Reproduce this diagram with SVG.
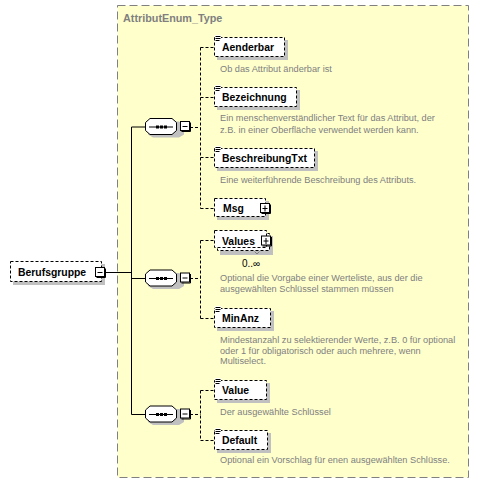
<svg xmlns="http://www.w3.org/2000/svg" width="479" height="484" viewBox="0 0 479 484">
<style>
.bg{fill:#FFFFFF}
.frame{fill:#FFFFCC;stroke:#808080;stroke-width:1;stroke-dasharray:8,4}
.title{font-family:"Liberation Sans",Arial,sans-serif;font-weight:bold;font-size:10.8px;fill:#808080}
.box{fill:#FFFFFF;stroke:#000000;stroke-width:1;stroke-dasharray:3,2}
.shadow{fill:#C0C0C0}
.name{font-family:"Liberation Sans",Arial,sans-serif;font-weight:bold;font-size:10.4px;fill:#000000}
.doc{font-family:"Liberation Sans",Arial,sans-serif;font-size:9.2px;fill:#808080}
.occ{font-family:"Liberation Sans",Arial,sans-serif;font-size:10px;fill:#000000}
.btn{fill:#FFFFFF;stroke:#000000;stroke-width:1}
.solid{fill:none;stroke:#000000;stroke-width:1}
.dash{fill:none;stroke:#000000;stroke-width:1;stroke-dasharray:3,2}
.oct{fill:#FFFFFF;stroke:#000000;stroke-width:1}
</style>
<defs>
<g id="icon"><rect x="0" y="-1" width="6" height="6" fill="#FFFFFF"/><path d="M0.5 0.5H5.5M0.5 2.5H5.5M0.5 4.5H4.5" stroke="#000000" stroke-width="1"/></g>
<g id="minus"><rect x="0.5" y="0.5" width="9" height="9" class="btn"/><path d="M10.5 1.5V10.5H1.5" fill="none" stroke="#000000"/><path d="M2.5 5.5H7.5" stroke="#000000"/></g>
<g id="plus"><rect x="0.5" y="0.5" width="9" height="9" class="btn"/><path d="M10.5 1.5V10.5H1.5" fill="none" stroke="#000000"/><path d="M2.5 5.5H7.5M5 2.5V8.5" stroke="#000000"/></g>
<g id="seq">
<polygon points="3,-5 8,-8 34,-8 39,-5 39,5 34,8 8,8 3,5" class="shadow" transform="translate(0,3)"/>
<polygon points="0.5,-4 5,-8 27,-8 31.5,-4 31.5,4 27,8 5,8 0.5,4" class="oct"/>
<path d="M4 0.5H28" stroke="#000000"/>
<rect x="11" y="-1" width="3" height="3" fill="#000000"/>
<rect x="15" y="-1" width="3" height="3" fill="#000000"/>
<rect x="19" y="-1" width="3" height="3" fill="#000000"/>
</g>
</defs>
<rect x="0" y="0" width="479" height="484" class="bg"/>
<rect x="117.5" y="5.5" width="351" height="472" class="frame"/>
<text x="123" y="22" class="title">AttributEnum_Type</text>

<g id="connectors">
<path d="M105 272.5H131.5V127H145M131.5 278.5H145M131.5 272V414.5H145" class="solid"/>
<path d="M190 127.5H200.5M200.5 47.5V208.5M200.5 47.5H214M200.5 97.5H214M200.5 157.5H214M200.5 208.5H214" class="dash"/>
<path d="M190 278.5H200.5M200.5 240.5V318.5M200.5 240.5H214M200.5 318.5H214" class="dash"/>
<path d="M190 414.5H200.5M200.5 390.5V440.5M200.5 390.5H214M200.5 440.5H214" class="dash"/>
</g>

<g id="Berufsgruppe">
<rect x="13" y="264" width="92" height="21" class="shadow"/>
<rect x="10.5" y="261.5" width="91" height="20" class="box"/>
<text x="18" y="276" class="name">Berufsgruppe</text>
<use href="#minus" x="95" y="267"/>
</g>

<g id="seq1"><use href="#seq" x="145" y="126.5"/><use href="#minus" x="180" y="121"/></g>
<g id="seq2"><use href="#seq" x="145" y="278"/><use href="#minus" x="180" y="272.5"/></g>
<g id="seq3"><use href="#seq" x="145" y="414"/><use href="#minus" x="180" y="408.5"/></g>

<g id="Aenderbar">
<rect x="217" y="40" width="71" height="20" class="shadow"/>
<rect x="214.5" y="37.5" width="70" height="19" class="box"/>
<use href="#icon" x="215" y="36"/>
<text x="222" y="51" class="name">Aenderbar</text>
<text x="220" y="72" class="doc">Ob das Attribut änderbar ist</text>
</g>

<g id="Bezeichnung">
<rect x="217" y="90" width="83" height="20" class="shadow"/>
<rect x="214.5" y="87.5" width="82" height="19" class="box"/>
<use href="#icon" x="215" y="86"/>
<text x="222" y="101" class="name">Bezeichnung</text>
<text x="220" y="121" class="doc">Ein menschenverständlicher Text für das Attribut, der</text>
<text x="220" y="132.5" class="doc">z.B. in einer Oberfläche verwendet werden kann.</text>
</g>

<g id="BeschreibungTxt">
<rect x="217" y="151" width="101" height="20" class="shadow"/>
<rect x="214.5" y="148.5" width="100" height="19" class="box"/>
<use href="#icon" x="215" y="147"/>
<text x="222" y="162" class="name">BeschreibungTxt</text>
<text x="220" y="183" class="doc">Eine weiterführende Beschreibung des Attributs.</text>
</g>

<g id="Msg">
<rect x="217" y="201" width="52" height="19" class="shadow"/>
<rect x="214.5" y="198.5" width="51" height="18" class="box"/>
<text x="223" y="212" class="name">Msg</text>
<use href="#plus" x="260" y="203"/>
</g>

<g id="Values">
<rect x="220" y="236" width="53" height="19" class="shadow"/>
<rect x="217.5" y="233.5" width="52" height="17" class="box"/>
<rect x="214.5" y="230.5" width="52" height="17" class="box"/>
<text x="222" y="244.5" class="name">Values</text>
<use href="#plus" x="261" y="235.5"/>
<path d="M254.5 251.5L257 254L259.5 251.5" fill="none" stroke="#808080"/>
<text x="242" y="267" class="occ">0..∞</text>
<text x="220" y="281" class="doc">Optional die Vorgabe einer Werteliste, aus der die</text>
<text x="220" y="292" class="doc">ausgewählten Schlüssel stammen müssen</text>
</g>

<g id="MinAnz">
<rect x="217" y="311" width="57" height="20" class="shadow"/>
<rect x="214.5" y="308.5" width="56" height="19" class="box"/>
<use href="#icon" x="215" y="307"/>
<text x="222" y="322" class="name">MinAnz</text>
<text x="220" y="343" class="doc">Mindestanzahl zu selektierender Werte, z.B. 0 für optional</text>
<text x="220" y="353.5" class="doc">oder 1 für obligatorisch oder auch mehrere, wenn</text>
<text x="220" y="364" class="doc">Multiselect.</text>
</g>

<g id="Value">
<rect x="217" y="383" width="53" height="20" class="shadow"/>
<rect x="214.5" y="380.5" width="52" height="19" class="box"/>
<use href="#icon" x="215" y="379"/>
<text x="222" y="394" class="name">Value</text>
<text x="220" y="415" class="doc">Der ausgewählte Schlüssel</text>
</g>

<g id="Default">
<rect x="217" y="433" width="54" height="20" class="shadow"/>
<rect x="214.5" y="430.5" width="53" height="19" class="box"/>
<use href="#icon" x="215" y="429"/>
<text x="222" y="444" class="name">Default</text>
<text x="220" y="463" class="doc">Optional ein Vorschlag für enen ausgewählten Schlüsse.</text>
</g>
</svg>
